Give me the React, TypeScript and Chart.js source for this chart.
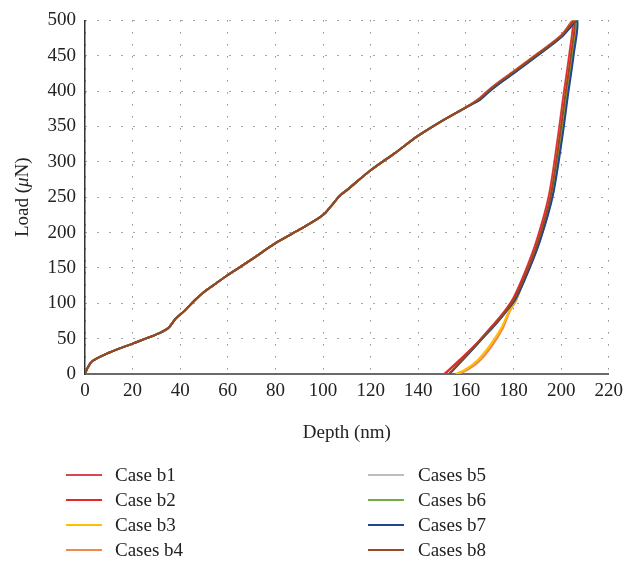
import React, { useEffect, useRef } from "react";
import { Chart, registerables } from "chart.js";

Chart.register(...registerables);

// Shared loading branch (depth nm, load µN)
const loadingDepth = [0, 1, 3, 10, 20, 30, 35, 38, 42, 46, 50, 55, 60, 70, 80, 90, 98, 101, 104, 107, 110, 120, 130, 140, 150, 160];
const loadingLoad = [0, 8, 18, 30, 43, 56, 65, 78, 90, 104, 116, 128, 140, 162, 185, 204, 220, 228, 240, 252, 260, 288, 312, 337, 358, 377];

// Per-series upper loading + unloading branches
const b1Depth = [166, 170, 175, 180, 190, 200, 204.8, 203.4, 201, 198.6, 194.8, 189.8, 184.9, 180, 176, 171, 165, 158, 150.8];
const b1Load = [391, 403, 416, 428, 453, 479, 500, 452, 395, 335, 252, 190, 145, 108, 88, 68, 45, 22, 0];
const b2Depth = [166, 170, 175, 180, 190, 200, 205.1, 203.7, 201.3, 198.9, 195.1, 190.1, 185.2, 180.2, 176.2, 171.2, 165.2, 158.2, 151.2];
const b2Load = [390, 402, 415, 427, 452, 478, 500, 452, 395, 335, 252, 190, 145, 108, 88, 68, 45, 22, 0];
const b3Depth = [166, 170, 175, 180, 190, 200, 205.8, 204.4, 202, 199.6, 195.8, 190.9, 185.9, 181, 178, 175, 170, 165, 160, 155.8];
const b3Load = [389, 401, 414, 426, 451, 477, 500, 452, 395, 335, 252, 190, 145, 105, 88, 66, 40, 20, 7, 0];
const b4Depth = [166, 170, 175, 180, 190, 200, 205.5, 204.1, 201.7, 199.3, 195.5, 190.6, 185.7, 181.2, 178.3, 175.4, 170.6, 165.6, 160.8, 156.7];
const b4Load = [390, 402, 415, 427, 452, 478, 500, 452, 395, 335, 252, 190, 145, 105, 88, 64, 38, 18, 6, 0];
const b5Depth = [166, 170, 175, 180, 190, 200, 206.1, 204.7, 202.3, 199.9, 196.1, 191.1, 186, 181.1, 178.2, 175.3, 170.4, 165.4, 160.5, 156.3];
const b5Load = [389, 401, 414, 426, 451, 477, 500, 452, 395, 335, 252, 190, 145, 105, 88, 65, 39, 19, 6, 0];
const b6Depth = [166, 170, 175, 180, 190, 200, 206.4, 205, 202.6, 200.2, 196.3, 191.2, 186.1, 180.8, 177, 172.3, 166.8, 160, 153];
const b6Load = [388, 400, 413, 425, 450, 476, 500, 452, 395, 335, 252, 190, 145, 106, 89, 70, 50, 25, 0];
const b7Depth = [166, 170, 175, 180, 190, 200, 206.7, 205.3, 202.9, 200.5, 196.5, 191.3, 186.2, 180.9, 177.1, 172.4, 166.9, 160.1, 153.1];
const b7Load = [388, 400, 413, 425, 450, 476, 500, 452, 395, 335, 252, 190, 145, 106, 89, 70, 50, 25, 0];
const b8Depth = [166, 170, 175, 180, 190, 200, 205.6, 204.2, 201.8, 199.4, 195.6, 190.6, 185.6, 180.5, 176.8, 172, 166.5, 159.8, 152.9];
const b8Load = [390, 402, 415, 427, 452, 478, 500, 452, 395, 335, 252, 190, 145, 107, 89, 70, 50, 25, 0];

const seriesNames = ["Case b1", "Case b2", "Case b3", "Cases b4", "Cases b5", "Cases b6", "Cases b7", "Cases b8"];
const seriesColors = ["#d9474c", "#e8252b", "#ffc000", "#ef8a4c", "#bdbdbd", "#70ad47", "#23448e", "#9a4820"];
const seriesDepths = [b1Depth, b2Depth, b3Depth, b4Depth, b5Depth, b6Depth, b7Depth, b8Depth];
const seriesLoads = [b1Load, b2Load, b3Load, b4Load, b5Load, b6Load, b7Load, b8Load];
const drawOrder = [7, 6, 3, 4, 5, 2, 1, 0];

const xTicks = [0, 20, 40, 60, 80, 100, 120, 140, 160, 180, 200, 220];
const yTicks = [0, 50, 100, 150, 200, 250, 300, 350, 400, 450, 500];

const FONT = "'Liberation Serif', 'DejaVu Serif', serif";

// Draws the y-axis title with an italic µ
const yTitlePlugin = {
  id: "yTitle",
  afterDraw(chart: any) {
    const { ctx, chartArea } = chart;
    const parts = [
      { t: "Load (", italic: false },
      { t: "μ", italic: true },
      { t: "N)", italic: false },
    ];
    ctx.save();
    const font = (it: boolean) => `${it ? "italic " : ""}19px ${FONT}`;
    let total = 0;
    for (const p of parts) {
      ctx.font = font(p.italic);
      total += ctx.measureText(p.t).width;
    }
    const cy = (chartArea.top + chartArea.bottom) / 2;
    ctx.translate(23, cy);
    ctx.rotate(-Math.PI / 2);
    ctx.fillStyle = "#222";
    ctx.textBaseline = "middle";
    ctx.textAlign = "left";
    let x = -total / 2;
    for (const p of parts) {
      ctx.font = font(p.italic);
      ctx.fillText(p.t, x, 0);
      x += ctx.measureText(p.t).width;
    }
    ctx.restore();
  },
};

export default function App() {
  const ref = useRef<HTMLCanvasElement | null>(null);

  useEffect(() => {
    if (!ref.current) return;
    const datasets = seriesNames.map((name, i) => {
      const xs = [...loadingDepth, ...seriesDepths[i]];
      const ys = [...loadingLoad, ...seriesLoads[i]];
      return {
        label: name,
        data: xs.map((x, k) => ({ x, y: ys[k] })),
        borderColor: seriesColors[i],
        backgroundColor: seriesColors[i],
        borderWidth: 2,
        pointRadius: 0,
        tension: 0.3,
        fill: false,
        order: drawOrder[i],
      };
    });
    const chart = new Chart(ref.current, {
      type: "line",
      data: { datasets },
      plugins: [yTitlePlugin],
      options: {
        animation: false,
        responsive: false,
        parsing: false as any,
        layout: { padding: { left: 0, right: 16, top: 19, bottom: 122 } },
        plugins: { legend: { display: false }, tooltip: { enabled: false } },
        scales: {
          x: {
            type: "linear",
            min: 0,
            max: 220,
            afterFit: (s: any) => {
              s.height = 70;
            },
            afterBuildTicks: (s: any) => {
              s.ticks = xTicks.map((v) => ({ value: v }));
            },
            ticks: { color: "#222", font: { family: FONT, size: 19 }, padding: 6, maxRotation: 0 },
            grid: { color: "#555", lineWidth: 1, drawTicks: false },
            border: { display: true, color: "#6a6a6a", width: 2, dash: [1, 11] },
            title: { display: true, text: "Depth (nm)", color: "#222", font: { family: FONT, size: 19 }, padding: { top: 7, bottom: 0 } },
          },
          y: {
            type: "linear",
            min: 0,
            max: 500,
            afterFit: (s: any) => {
              s.width = 85;
            },
            afterBuildTicks: (s: any) => {
              s.ticks = yTicks.map((v) => ({ value: v }));
            },
            ticks: { color: "#222", font: { family: FONT, size: 19 }, padding: 9 },
            grid: { color: "#555", lineWidth: 1, drawTicks: false },
            border: { display: true, color: "#333", width: 1.5, dash: [1, 11] },
          },
        },
      },
    });
    return () => chart.destroy();
  }, []);

  const legendRows = [0, 1, 2, 3];
  const legendCol = (start: number, lineLeft: number, textLeft: number) =>
    legendRows.map((r) => {
      const i = start + r;
      const top = 475 + r * 25;
      return (
        <React.Fragment key={i}>
          <div style={{ position: "absolute", left: lineLeft, top: top - 1, width: 36, height: 2, background: seriesColors[i] }} />
          <div style={{ position: "absolute", left: textLeft, top: top - 12, fontFamily: FONT, fontSize: 19, lineHeight: "23px", color: "#222", whiteSpace: "nowrap" }}>
            {seriesNames[i]}
          </div>
        </React.Fragment>
      );
    });

  return (
    <div style={{ position: "absolute", left: 0, top: 0, width: 629, height: 566, background: "#fff" }}>
      <canvas ref={ref} width={629} height={566} style={{ position: "absolute", left: 0, top: 0, width: 629, height: 566 }} />
      {legendCol(0, 66, 115)}
      {legendCol(4, 368, 418)}
    </div>
  );
}
